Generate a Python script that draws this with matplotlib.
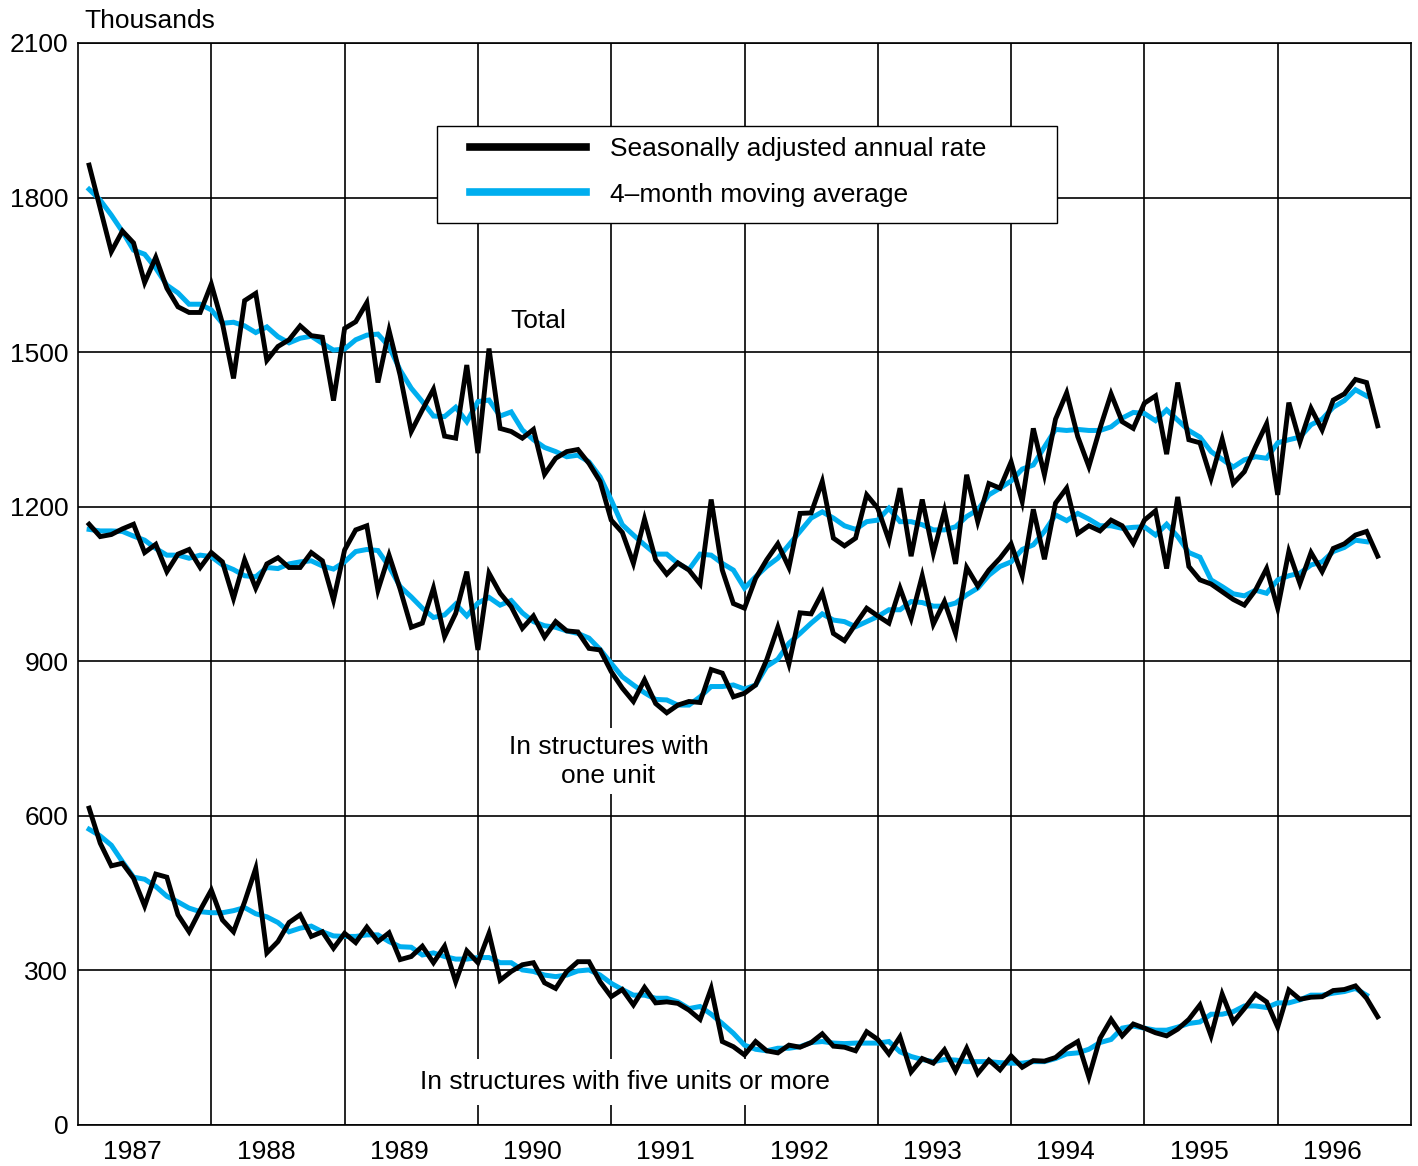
import numpy as np
import matplotlib
matplotlib.use("Agg")
import matplotlib.pyplot as plt
from matplotlib.lines import Line2D
from matplotlib.patches import Rectangle

plt.rcParams['font.family'] = ['Liberation Sans', 'DejaVu Sans']

# monthly data, Jan 1987 - Sep 1996, thousands of units (SAAR)
total = [1863, 1779, 1695, 1735, 1712, 1635, 1684, 1624, 1588, 1577, 1577, 1632,
         1556, 1449, 1600, 1614, 1484, 1511, 1524, 1551, 1532, 1529, 1406, 1546,
         1559, 1596, 1441, 1542, 1455, 1346, 1388, 1428, 1337, 1333, 1475, 1304,
         1507, 1352, 1346, 1333, 1350, 1263, 1294, 1307, 1311, 1284, 1249, 1174,
         1150, 1090, 1176, 1097, 1069, 1091, 1077, 1050, 1214, 1077, 1012, 1003,
         1061, 1097, 1128, 1082, 1187, 1188, 1249, 1139, 1124, 1139, 1223, 1197,
         1135, 1236, 1104, 1214, 1110, 1192, 1089, 1262, 1171, 1245, 1236, 1287,
         1210, 1352, 1262, 1370, 1421, 1336, 1278, 1352, 1419, 1365, 1352, 1401,
         1415, 1302, 1441, 1330, 1324, 1255, 1331, 1245, 1268, 1316, 1361, 1223,
         1402, 1326, 1391, 1349, 1407, 1419, 1447, 1441, 1357]
total_ma = [1816, 1795, 1766, 1734, 1698, 1690, 1663, 1630, 1615, 1593, 1593, 1582,
            1556, 1558, 1551, 1538, 1549, 1530, 1518, 1527, 1531, 1517, 1504, 1506,
            1524, 1533, 1535, 1511, 1465, 1430, 1404, 1376, 1375, 1393, 1365, 1404,
            1407, 1376, 1384, 1349, 1330, 1315, 1307, 1297, 1300, 1287, 1258, 1213,
            1165, 1145, 1126, 1108, 1108, 1090, 1078, 1108, 1106, 1090, 1077, 1042,
            1064, 1084, 1100, 1126, 1152, 1178, 1190, 1178, 1163, 1156, 1171, 1174,
            1197, 1171, 1171, 1165, 1155, 1155, 1161, 1181, 1194, 1223, 1236, 1250,
            1273, 1281, 1316, 1350, 1348, 1350, 1348, 1348, 1355, 1372, 1383, 1381,
            1367, 1388, 1368, 1348, 1335, 1307, 1292, 1277, 1291, 1297, 1294, 1324,
            1330, 1335, 1359, 1370, 1393, 1406, 1427, 1415, np.nan]

one_unit = [1166, 1142, 1146, 1157, 1166, 1111, 1127, 1074, 1108, 1117, 1082, 1111,
            1093, 1022, 1097, 1042, 1089, 1101, 1082, 1082, 1111, 1095, 1019, 1116,
            1155, 1163, 1038, 1106, 1040, 966, 974, 1042, 948, 993, 1074, 922,
            1071, 1032, 1006, 964, 988, 947, 977, 959, 957, 925, 922, 880,
            848, 822, 864, 818, 800, 815, 822, 820, 884, 877, 831, 838,
            854, 903, 966, 895, 994, 992, 1033, 954, 940, 972, 1003, 988,
            974, 1042, 983, 1066, 972, 1016, 954, 1082, 1046, 1077, 1100, 1128,
            1066, 1195, 1098, 1207, 1236, 1148, 1163, 1153, 1174, 1163, 1129, 1174,
            1192, 1080, 1219, 1084, 1058, 1050, 1035, 1020, 1009, 1038, 1080, 1003,
            1113, 1051, 1111, 1074, 1119, 1128, 1145, 1152, 1104]
one_unit_ma = [1156, 1153, 1153, 1152, 1143, 1135, 1119, 1106, 1106, 1100, 1106, 1103,
               1087, 1078, 1066, 1064, 1082, 1080, 1089, 1093, 1095, 1085, 1079, 1093,
               1113, 1117, 1115, 1084, 1045, 1025, 1003, 985, 990, 1011, 988, 1013,
               1024, 1009, 1018, 994, 977, 969, 966, 959, 954, 945, 923, 896,
               870, 854, 839, 826, 825, 815, 815, 831, 851, 851, 854, 846,
               854, 890, 904, 935, 954, 974, 992, 980, 977, 967, 977, 987,
               1000, 1000, 1016, 1014, 1007, 1007, 1013, 1029, 1042, 1067, 1084, 1093,
               1117, 1126, 1152, 1184, 1173, 1187, 1176, 1163, 1163, 1158, 1160, 1161,
               1145, 1166, 1142, 1111, 1102, 1058, 1045, 1031, 1027, 1038, 1032, 1058,
               1066, 1071, 1087, 1093, 1113, 1121, 1135, 1132, np.nan]

five_units = [615, 547, 503, 508, 479, 425, 487, 481, 408, 375, 417, 456,
              398, 375, 433, 498, 334, 356, 393, 408, 366, 375, 343, 372,
              354, 384, 356, 373, 321, 327, 347, 315, 347, 278, 338, 315,
              372, 281, 298, 311, 315, 276, 265, 298, 317, 317, 278, 249,
              263, 233, 267, 237, 239, 236, 223, 205, 265, 162, 152, 136,
              162, 144, 140, 155, 151, 160, 177, 153, 151, 144, 181, 166,
              138, 171, 103, 129, 120, 146, 105, 149, 100, 126, 107, 134,
              112, 125, 124, 131, 149, 162, 93, 168, 205, 173, 196, 188,
              179, 173, 186, 205, 233, 173, 254, 200, 226, 254, 239, 190,
              262, 244, 248, 249, 261, 263, 270, 246, 210]
five_units_ma = [574, 561, 543, 511, 481, 477, 463, 444, 433, 421, 414, 412,
                 412, 416, 422, 410, 404, 393, 375, 382, 386, 375, 367, 366,
                 366, 369, 369, 356, 346, 345, 330, 334, 327, 322, 322, 325,
                 325, 315, 315, 301, 298, 291, 288, 291, 299, 301, 291, 275,
                 263, 252, 252, 246, 246, 239, 226, 230, 215, 197, 178, 155,
                 147, 144, 149, 149, 152, 160, 162, 159, 158, 159, 159, 159,
                 162, 142, 133, 127, 123, 127, 126, 123, 123, 123, 121, 120,
                 120, 123, 123, 129, 138, 140, 147, 160, 166, 188, 192, 188,
                 184, 184, 190, 197, 200, 215, 215, 220, 231, 231, 228, 237,
                 237, 243, 252, 252, 256, 259, 265, 252, np.nan]

years = list(range(1987, 1997))
months = 1987 + (np.arange(len(total)) + 1) / 12.0

BLUE = '#00aeef'
FS = 19
W, H = 1418, 1166
fig = plt.figure(figsize=(W / 100, H / 100), dpi=100)
ax = fig.add_axes([78 / W, 1 - 1125 / H, (1411 - 78) / W, (1125 - 43) / H])

for ma in [total_ma, one_unit_ma, five_units_ma]:
    ax.plot(months, ma, color=BLUE, lw=3.6, solid_joinstyle='miter', zorder=3)
for s in [total, one_unit, five_units]:
    ax.plot(months, s, color='black', lw=3.5, solid_joinstyle='miter', zorder=4)

ax.set_xlim(1987, 1997)
ax.set_ylim(0, 2100)
ax.set_yticks(range(0, 2101, 300))
ax.set_xticks(range(1988, 1997))
ax.set_xticklabels([])
ax.grid(True, color='black', lw=1.2)
ax.tick_params(axis='both', length=0, labelsize=FS)
ax.tick_params(axis='y', pad=7)
for sp in ax.spines.values():
    sp.set_linewidth(1.2)
    sp.set_zorder(6)

for y in years:
    ax.text(y + 0.41, -52, str(y), ha='center', va='center', fontsize=FS)

ax.text(0.005, 1.009, 'Thousands', transform=ax.transAxes, ha='left', va='bottom', fontsize=FS)

box = dict(facecolor='white', edgecolor='none', pad=5)
ax.text(1990.45, 1560, 'Total', ha='center', va='center', fontsize=FS, zorder=5)
ax.text(1990.98, 706, 'In structures with\none unit', ha='center', va='center', fontsize=FS,
        linespacing=1.25, bbox=box, zorder=5)
ax.text(1991.10, 83, 'In structures with five units or more', ha='center', va='center',
        fontsize=FS, bbox=dict(facecolor='white', edgecolor='none', pad=8), zorder=5)

# legend box
ax.add_patch(Rectangle((437 / W, 1 - 223 / H), 620 / W, 97 / H, transform=fig.transFigure,
                       facecolor='white', edgecolor='black', lw=1.0, zorder=9, clip_on=False))
handles = [Line2D([], [], color='black', lw=5.5), Line2D([], [], color=BLUE, lw=5.5)]
leg = ax.legend(handles, ['Seasonally adjusted annual rate', '4\u2013month moving average'],
                loc='upper left', bbox_to_anchor=(470 / W, 1 - 137 / H),
                bbox_transform=fig.transFigure, fontsize=FS, frameon=False,
                handlelength=4.4, handletextpad=0.9, borderpad=0, labelspacing=0.82,
                borderaxespad=0)
leg.set_zorder(10)

fig.savefig('out.png', dpi=100)
